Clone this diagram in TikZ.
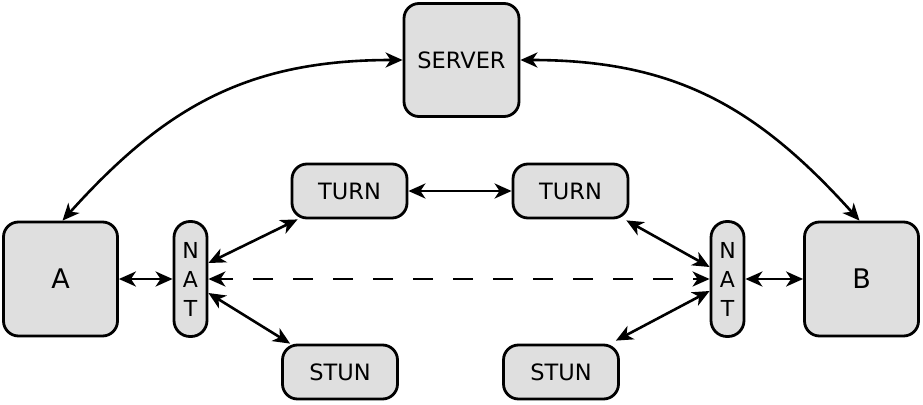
\documentclass[tikz,border=0pt]{standalone}
\usepackage{fontspec}
\setmainfont{DejaVu Sans}
\usetikzlibrary{arrows.meta}
\definecolor{boxfill}{HTML}{DFDFDF}
\tikzset{
  box/.style={draw=black, line width=2.8pt, fill=boxfill, rounded corners=15pt, inner sep=0pt, font=\fontsize{22.5}{24}\selectfont},
  bigbox/.style={box, minimum width=114pt, minimum height=114pt, font=\fontsize{27}{30}\selectfont},
  smallbox/.style={box, minimum width=115pt, minimum height=54pt},
  natbox/.style={box, rounded corners=16pt, minimum width=33pt, minimum height=115pt, align=center, font=\fontsize{22}{29}\selectfont},
  biarrow/.style={line width=2.6pt, {Stealth[length=17pt,width=15pt,inset=5pt]}-{Stealth[length=17pt,width=15pt,inset=5pt]}},
}
\begin{document}
\begin{tikzpicture}[x=1pt,y=-1pt]
\useasboundingbox (0,0) rectangle (923,404);
\node[box, minimum width=115pt, minimum height=113pt] (server) at (461.5,60) {SERVER};
\node[bigbox] (A) at (60.5,279) {A};
\node[bigbox] (B) at (861.5,279) {B};
\node[natbox] (natL) at (190.5,279) {N\\A\\T};
\node[natbox] (natR) at (727.5,279) {N\\A\\T};
\node[smallbox] (turnL) at (349.5,191) {TURN};
\node[smallbox] (turnR) at (570.5,191) {TURN};
\node[smallbox] (stunL) at (340,372) {STUN};
\node[smallbox] (stunR) at (561,372) {STUN};

\draw[biarrow] (server.west) to[out=180,in=48,looseness=1.05] ([xshift=2pt]A.north);
\draw[biarrow] (server.east) to[out=0,in=132,looseness=1.05] ([xshift=-2pt]B.north);
\draw[biarrow] (A.east) -- (natL.west);
\draw[biarrow] (natR.east) -- (B.west);
\draw[biarrow] (turnL.east) -- (turnR.west);
\draw[biarrow] ([yshift=16pt]natL.east) -- ([xshift=7pt]turnL.south west);
\draw[biarrow] ([yshift=-14pt]natL.east) -- ([xshift=9pt]stunL.north west);
\draw[biarrow] ([yshift=12pt]natR.west) -- ([xshift=-3pt,yshift=-1pt]turnR.south east);
\draw[biarrow] ([yshift=-12pt]natR.west) -- ([xshift=-4pt,yshift=3pt]stunR.north east);
\draw[biarrow, dash pattern=on 20pt off 20pt, dash phase=6pt] (natL.east) -- (natR.west);
\end{tikzpicture}
\end{document}
